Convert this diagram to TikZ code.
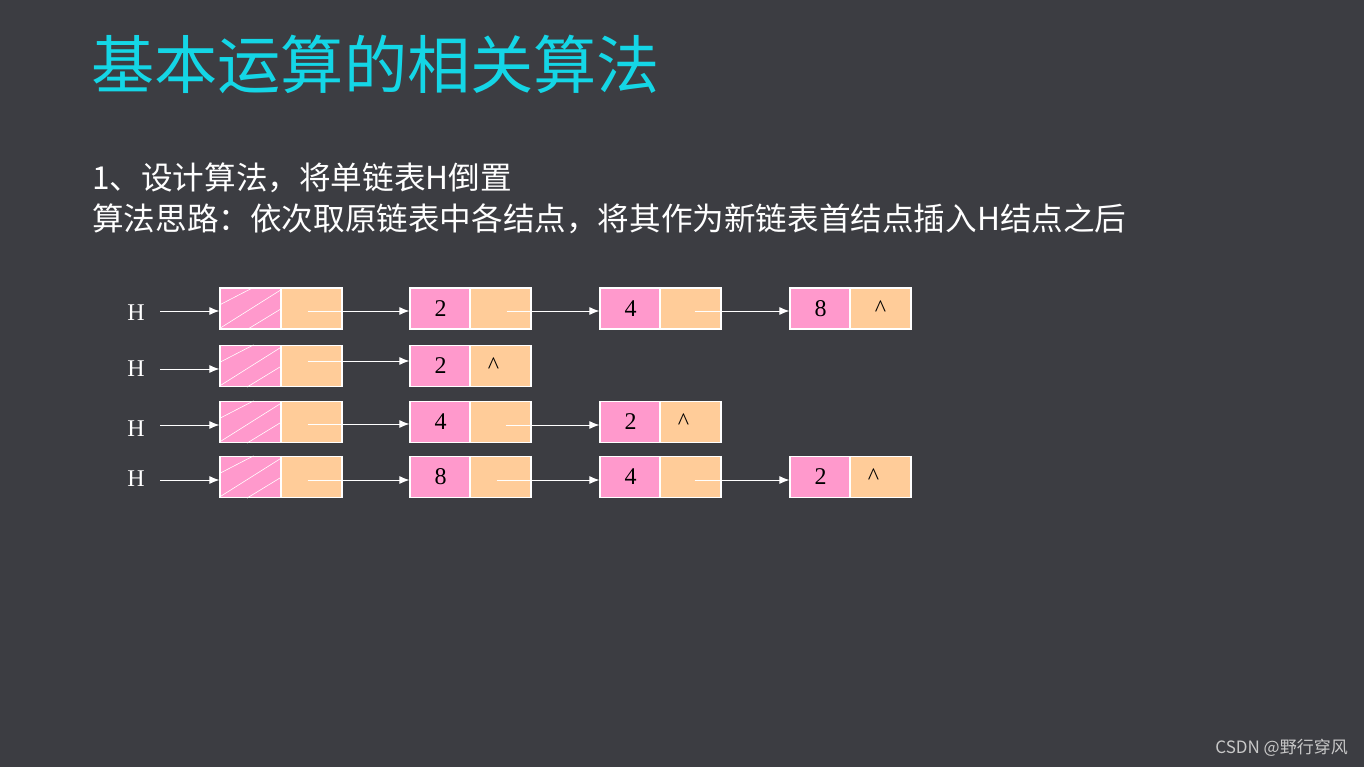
\documentclass[tikz,border=0pt]{standalone}
\usepackage{fontspec}
\usetikzlibrary{arrows.meta}
\newfontfamily\cjk{Noto Sans CJK SC}
\newfontfamily\tms{Liberation Serif}
\definecolor{bg}{RGB}{60,61,66}
\definecolor{titlecyan}{RGB}{20,214,230}
\definecolor{cellpink}{RGB}{255,153,204}
\definecolor{cellpeach}{RGB}{255,204,153}
\definecolor{wmgray}{RGB}{200,200,200}
\tikzset{
  pinkcell/.style={draw=white,line width=1.2pt,fill=cellpink,minimum width=61pt,minimum height=41pt,inner sep=0pt,font=\tms\fontsize{24}{24}\selectfont,text=black},
  peachcell/.style={draw=white,line width=1.2pt,fill=cellpeach,minimum width=61pt,minimum height=41pt,inner sep=0pt,font=\tms\fontsize{24}{24}\selectfont,text=black},
  hlabel/.style={text=white,font=\tms\fontsize{24}{24}\selectfont,inner sep=0pt},
  ptr/.style={draw=white,line width=1pt,-{Latex[length=10pt,width=8pt]}},
  hatch/.style={draw=white,line width=0.6pt},
  cjktext/.style={text=white,font=\cjk\fontsize{31.6}{31.6}\selectfont,anchor=west,inner sep=0pt}
}
\begin{document}
\begin{tikzpicture}[x=1pt,y=-1pt]
\fill[bg] (0,0) rectangle (1364,767);
\useasboundingbox (0,0) rectangle (1364,767);
% title and text
\node[text=titlecyan,font=\cjk\fontsize{63.2}{63.2}\selectfont,anchor=west,inner sep=0pt] (title) at (91,64) {基本运算的相关算法};
\node[cjktext] (line1) at (92,178) {1、设计算法，将单链表H倒置};
\node[cjktext] (line2) at (92,219) {算法思路：依次取原链表中各结点，将其作为新链表首结点插入H结点之后};
\node[text=wmgray,font=\cjk\fontsize{17}{17}\selectfont,anchor=east,inner sep=0pt] (wm) at (1348,748) {CSDN @野行穿风};
% row 1
\node[hlabel] (h1) at (136,313) {H};
\node[pinkcell] (r1a) at (250.5,308.5) {};
\node[peachcell] (r1b) at (311.5,308.5) {};
\node[pinkcell] (r1c) at (440.5,308.5) {2};
\node[peachcell] (r1d) at (500.5,308.5) {};
\node[pinkcell] (r1e) at (630.5,308.5) {4};
\node[peachcell] (r1f) at (690.5,308.5) {};
\node[pinkcell] (r1g) at (820.5,308.5) {8};
\node[peachcell] (r1h) at (880.5,308.5) {\^{}};
% row 2
\node[hlabel] (h2) at (136,369) {H};
\node[pinkcell] (r2a) at (250.5,366) {};
\node[peachcell] (r2b) at (311.5,366) {};
\node[pinkcell] (r2c) at (440.5,366) {2};
\node[peachcell] (r2d) at (500.5,366) {\hspace*{-14pt}\^{}};
% row 3
\node[hlabel] (h3) at (136,429) {H};
\node[pinkcell] (r3a) at (250.5,422) {};
\node[peachcell] (r3b) at (311.5,422) {};
\node[pinkcell] (r3c) at (440.5,422) {4};
\node[peachcell] (r3d) at (500.5,422) {};
\node[pinkcell] (r3e) at (630.5,422) {2};
\node[peachcell] (r3f) at (690.5,422) {\hspace*{-14pt}\^{}};
% row 4
\node[hlabel] (h4) at (136,479) {H};
\node[pinkcell] (r4a) at (250.5,477) {};
\node[peachcell] (r4b) at (311.5,477) {};
\node[pinkcell] (r4c) at (440.5,477) {8};
\node[peachcell] (r4d) at (500.5,477) {};
\node[pinkcell] (r4e) at (630.5,477) {4};
\node[peachcell] (r4f) at (690.5,477) {};
\node[pinkcell] (r4g) at (820.5,477) {2};
\node[peachcell] (r4h) at (880.5,477) {\hspace*{-14pt}\^{}};
% hatching in head cells
\foreach \r in {r1a,r2a,r3a,r4a}{
  \draw[hatch] ([yshift=3.5pt]\r.west) -- ([xshift=3pt]\r.north);
  \draw[hatch] ([yshift=1pt]\r.south west) -- ([yshift=-2pt]\r.north east);
  \draw[hatch] ([xshift=-3.5pt]\r.south) -- (\r.east);
}
% head pointers
\coordinate (s1) at (160,311);
\coordinate (s2) at (160,369);
\coordinate (s3) at (160,425);
\coordinate (s4) at (160,480);
\draw[ptr] (s1) -- (s1 -| r1a.west);
\draw[ptr] (s2) -- (s2 -| r2a.west);
\draw[ptr] (s3) -- (s3 -| r3a.west);
\draw[ptr] (s4) -- (s4 -| r4a.west);
% next pointers
\draw[ptr] ([xshift=-4pt,yshift=-2.5pt]r1b.center) -- ([yshift=-2.5pt]r1c.west);
\draw[ptr] ([xshift=6pt,yshift=-2.5pt]r1d.center) -- ([yshift=-2.5pt]r1e.west);
\draw[ptr] ([xshift=4pt,yshift=-2.5pt]r1f.center) -- ([yshift=-2.5pt]r1g.west);
\draw[ptr] ([xshift=-4pt,yshift=5pt]r2b.center) -- ([yshift=5pt]r2c.west);
\draw[ptr] ([xshift=-4pt,yshift=-2pt]r3b.center) -- ([yshift=-2pt]r3c.west);
\draw[ptr] ([xshift=5pt,yshift=-3pt]r3d.center) -- ([yshift=-3pt]r3e.west);
\draw[ptr] ([xshift=-4pt,yshift=-3pt]r4b.center) -- ([yshift=-3pt]r4c.west);
\draw[ptr] ([xshift=-4pt,yshift=-3pt]r4d.center) -- ([yshift=-3pt]r4e.west);
\draw[ptr] ([xshift=4pt,yshift=-3pt]r4f.center) -- ([yshift=-3pt]r4g.west);
\end{tikzpicture}
\end{document}
